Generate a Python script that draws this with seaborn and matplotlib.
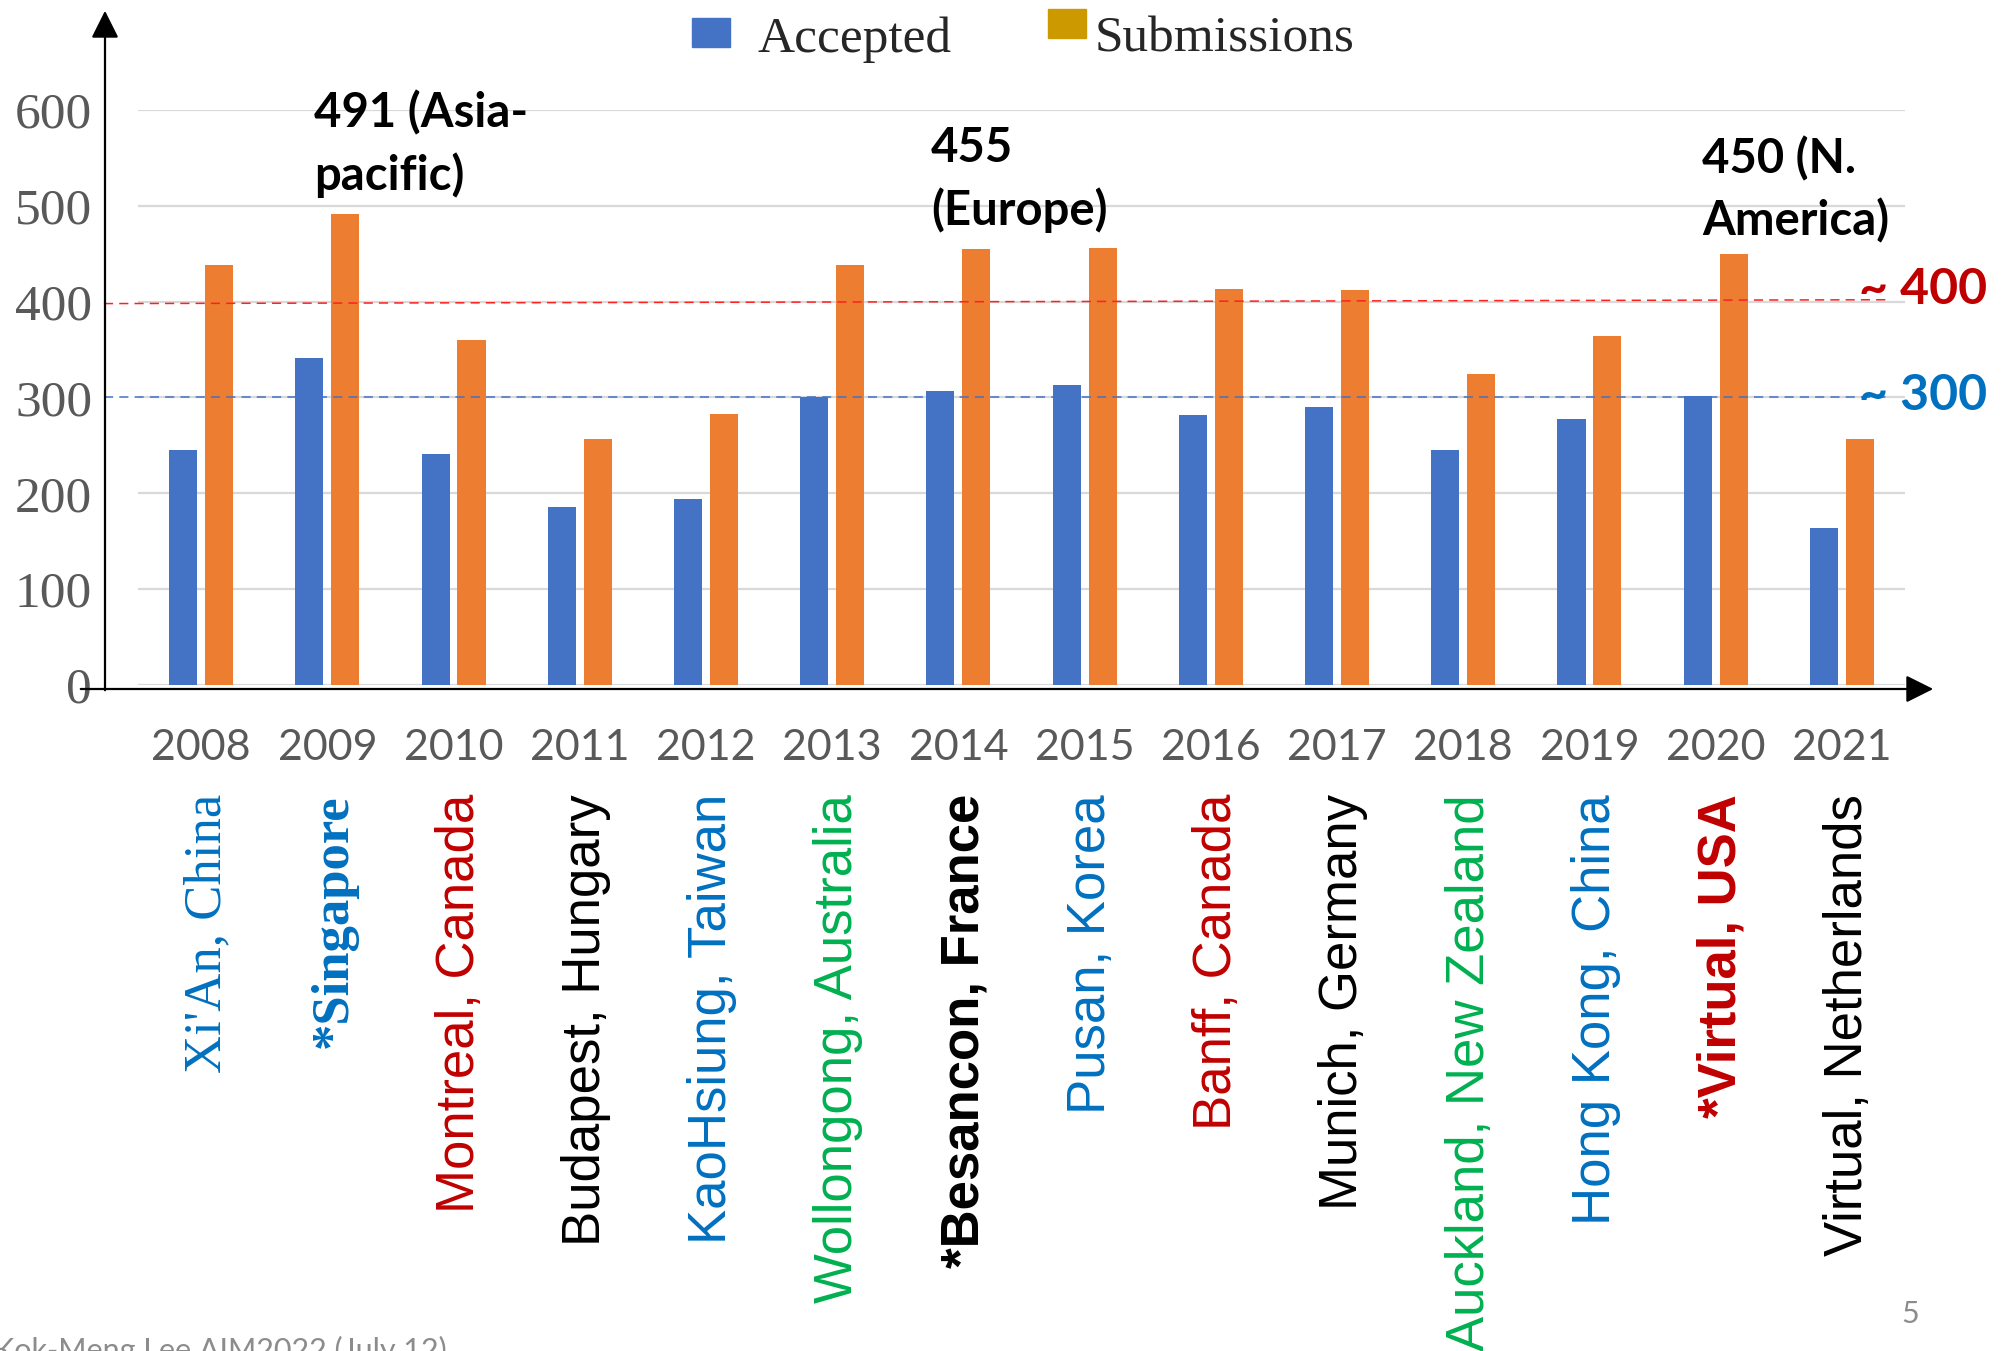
# Conference submissions vs accepted papers, 2008-2021
import pandas as pd
import matplotlib.pyplot as plt
import matplotlib.transforms as mtransforms
import seaborn as sns

# data
years = ['2008', '2009', '2010', '2011', '2012', '2013', '2014',
         '2015', '2016', '2017', '2018', '2019', '2020', '2021']
accepted = [245, 341, 241, 186, 194, 300, 307, 313, 282, 290, 245, 278, 302, 164]
submissions = [438, 491, 360, 257, 283, 438, 455, 456, 413, 412, 324, 364, 450, 257]
venues = ["Xi'An, China", '*Singapore', 'Montreal, Canada', 'Budapest, Hungary',
          'KaoHsiung, Taiwan', 'Wollongong, Australia', '*Besancon, France',
          'Pusan, Korea', 'Banff, Canada', 'Munich, Germany', 'Auckland, New Zealand',
          'Hong Kong, China', '*Virtual, USA', 'Virtual, Netherlands']
venue_colors = ['#0070C0', '#0070C0', '#C00000', 'black', '#0070C0', '#00B050', 'black',
                '#0070C0', '#C00000', 'black', '#00B050', '#0070C0', '#C00000', 'black']
venue_serif = [True, True] + [False] * 12
venue_bold = [False, True, False, False, False, False, True,
              False, False, False, False, False, True, False]

BLUE = '#4472C4'
ORANGE = '#ED7D31'
GOLD = '#CC9900'

df = pd.DataFrame({
    'Year': years * 2,
    'Series': ['Accepted'] * len(years) + ['Submissions'] * len(years),
    'Value': accepted + submissions,
})

sns.set_style('white')
W, H = 2009, 1351
fig = plt.figure(figsize=(W / 100, H / 100), dpi=100)
ax = fig.add_axes([138 / W, 1 - 685 / H, (1905 - 138) / W, (685 - 110) / H])

sns.barplot(data=df, x='Year', y='Value', hue='Series', hue_order=['Accepted', 'Submissions'],
            palette=[BLUE, ORANGE], width=0.57, gap=0.22, legend=False, ax=ax,
            edgecolor='none', saturation=1)

ax.set_xlim(-0.5, len(years) - 0.5)
ax.set_ylim(0, 600)
ax.set_yticks(range(0, 601, 100))
ax.set_xlabel('')
ax.set_ylabel('')
for s in ax.spines.values():
    s.set_visible(False)
ax.yaxis.grid(True, color='#d9d9d9', lw=1.6)
ax.set_axisbelow(True)
ax.tick_params(axis='y', length=0, pad=33, labelsize=37, labelcolor='#595959')
ax.tick_params(axis='x', length=0, pad=32, labelsize=31, labelcolor='#595959')
for lab in ax.get_yticklabels():
    lab.set_family('Liberation Serif')
for lab in ax.get_xticklabels():
    lab.set_family('Lato')

# dashed reference lines
ax.plot([-0.77, 13.35], [398, 402], ls=(0, (6, 4)), color='#FF2020', lw=1.1, clip_on=False)
ax.plot([-0.77, 13.35], [300, 300], ls=(0, (6, 4)), color=BLUE, lw=1.1, clip_on=False)

# axis arrows drawn in figure pixels
def fpt(x, y):
    return (x / W, 1 - y / H)

ax.annotate('', xy=fpt(1936, 689), xytext=fpt(78, 689), xycoords='figure fraction',
            arrowprops=dict(arrowstyle='-|>', color='black', lw=1.6, mutation_scale=42))
ax.annotate('', xy=fpt(105, 8), xytext=fpt(105, 693), xycoords='figure fraction',
            arrowprops=dict(arrowstyle='-|>', color='black', lw=1.6, mutation_scale=42))

# venue labels under the years
trans = mtransforms.blended_transform_factory(ax.transData, fig.transFigure)
for i, name in enumerate(venues):
    ax.text(i + 0.05, 1 - 794 / H, name, rotation=90, ha='center', va='top', transform=trans,
            color=venue_colors[i], fontsize=38,
            family='Liberation Serif' if venue_serif[i] else 'Liberation Sans',
            fontweight='bold' if venue_bold[i] else 'normal')

# annotations
note = dict(fontsize=34, fontweight='bold', family='Lato', color='black',
            ha='left', va='top', linespacing=1.45, transform=fig.transFigure)
fig.text(314 / W, 1 - 90 / H, '491 (Asia-\npacific)', **note)
fig.text(931 / W, 1 - 126 / H, '455\n(Europe)', **note)
fig.text(1702 / W, 1 - 136 / H, '450 (N.\nAmerica)', **note)
fig.text(1987 / W, 1 - 289 / H, '~ 400', fontsize=36, fontweight='bold', family='Lato',
         color='#C00000', ha='right', va='center')
fig.text(1987 / W, 1 - 395 / H, '~ 300', fontsize=36, fontweight='bold', family='Lato',
         color='#0070C0', ha='right', va='center')

# legend
fig.patches.append(plt.Rectangle(fpt(692, 47), 38 / W, 29 / H, color=BLUE,
                                 transform=fig.transFigure))
fig.patches.append(plt.Rectangle(fpt(1048, 38), 38 / W, 29 / H, color=GOLD,
                                 transform=fig.transFigure))
fig.text(758 / W, 1 - 52 / H, 'Accepted', fontsize=37, family='Liberation Serif', va='baseline')
fig.text(1095 / W, 1 - 52 / H, 'Submissions', fontsize=37, family='Liberation Serif', va='baseline')

# slide footer
fig.text(-6 / W, 1 - 1336 / H, 'Kok-Meng Lee AIM2022 (July 12)', fontsize=22, family='Lato',
         color='#8c8c8c', va='top')
fig.text(1910 / W, 1 - 1314 / H, '5', fontsize=22, family='Lato', color='#8c8c8c',
         ha='center', va='center')

fig.savefig('out.png', dpi=100, facecolor='white')
